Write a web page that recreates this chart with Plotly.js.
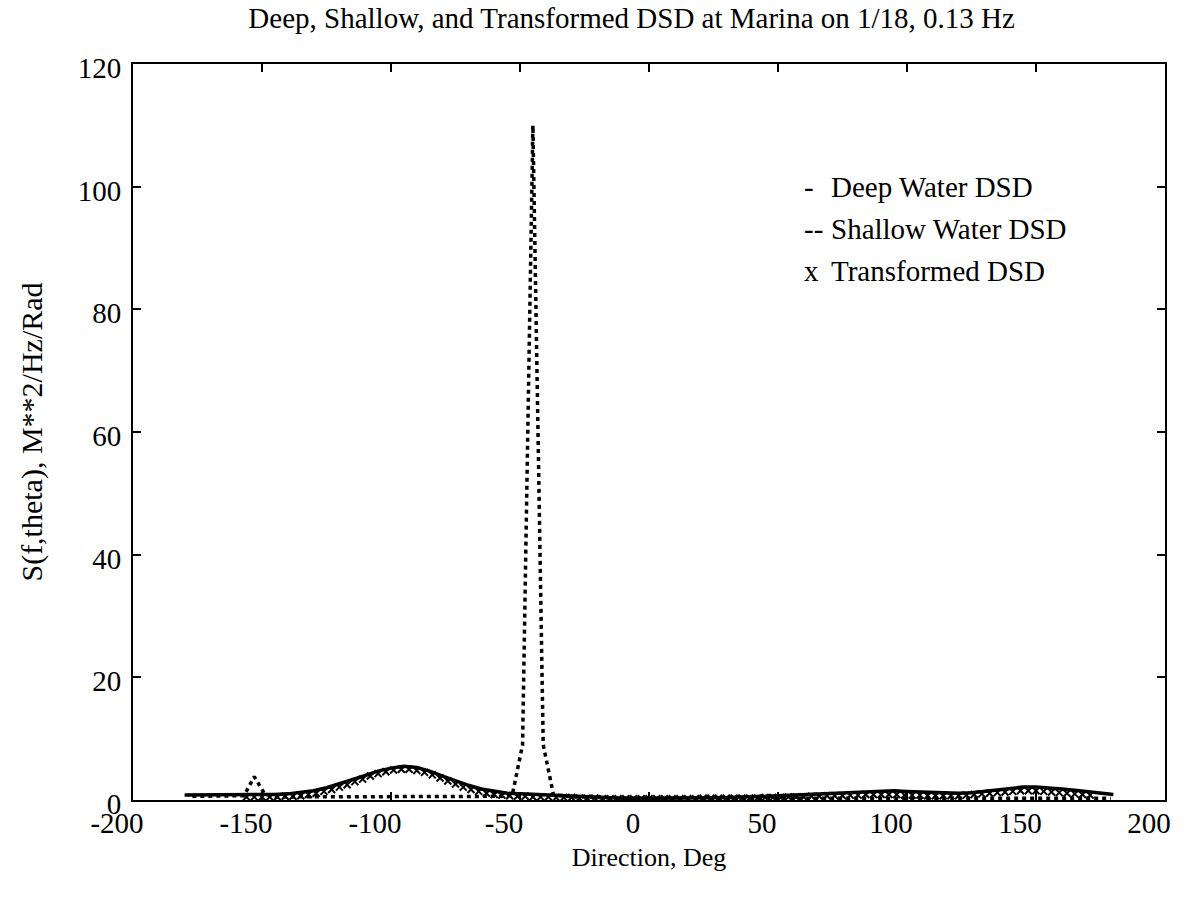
<!DOCTYPE html>
<html>
<head>
<meta charset="utf-8">
<script src="https://cdn.plot.ly/plotly-3.0.1.min.js"></script>
<style>html,body{margin:0;padding:0;background:#fff;}#chart{width:1194px;height:903px;}</style>
</head>
<body>
<div id="chart"></div>
<script>
// Deep water DSD (solid line)
const deepDir = [-180,-175,-170,-165,-160,-155,-150,-145,-140,-135,-130,-125,-120,-115,-110,-105,-100,-95,-90,-85,-80,-75,-70,-65,-60,-55,-50,-45,-40,-35,-30,-25,-20,-15,-10,-5,0,5,10,15,20,25,30,35,40,45,50,55,60,65,70,75,80,85,90,95,100,105,110,115,120,125,130,135,140,145,150,155,160,165,170,175,180];
const deepS = [0.8,0.8,0.8,0.8,0.8,0.8,0.8,0.9,1.0,1.2,1.5,2.0,2.6,3.3,4.0,4.7,5.2,5.5,5.3,4.7,3.9,3.1,2.4,1.8,1.4,1.1,1.0,0.9,0.9,0.8,0.7,0.6,0.5,0.4,0.3,0.3,0.2,0.3,0.3,0.4,0.4,0.4,0.4,0.5,0.5,0.6,0.7,0.8,0.9,1.0,1.1,1.2,1.3,1.4,1.5,1.5,1.4,1.3,1.2,1.1,1.1,1.2,1.4,1.7,1.9,2.1,2.1,2.0,1.8,1.6,1.4,1.1,0.9];

// Shallow water DSD (dashed line)
const shallowDir = [-177,-173,-169,-165,-161,-157,-153,-149,-145,-141,-137,-133,-129,-125,-121,-117,-113,-109,-105,-101,-97,-93,-89,-85,-81,-77,-73,-69,-65,-61,-57,-53,-49,-45,-41,-37,-33,-29,-25,-21,-17,-13,-9,-5,-1,3,7,11,15,19,23,27,31,35,39,43,47,51,55,59,63,67,71,75,79,83,87,91,95,99,103,107,111,115,119,123,127,131,135,139,143,147,151,155,159,163,167,171,175,179];
const shallowS = [0.6,0.6,0.6,0.6,0.6,0.7,3.8,1.0,0.5,0.5,0.5,0.5,0.5,0.5,0.5,0.5,0.5,0.5,0.5,0.5,0.5,0.5,0.5,0.5,0.5,0.5,0.5,0.5,0.5,0.5,0.6,0.8,9,110,9,0.8,0.6,0.5,0.5,0.4,0.4,0.3,0.3,0.3,0.2,0.2,0.2,0.2,0.2,0.2,0.2,0.2,0.3,0.3,0.3,0.3,0.3,0.3,0.3,0.3,0.3,0.3,0.3,0.3,0.3,0.3,0.3,0.3,0.3,0.3,0.3,0.3,0.3,0.3,0.3,0.3,0.3,0.3,0.3,0.3,0.3,0.3,0.3,0.3,0.3,0.3,0.3,0.3,0.3,0.3];

// Transformed DSD (x markers)
const transDir = [-156,-153,-150,-147,-144,-141,-138,-135,-132,-129,-126,-123,-120,-117,-114,-111,-108,-105,-102,-99,-96,-93,-90,-87,-84,-81,-78,-75,-72,-69,-66,-63,-60,-57,-54,-51,-48,-45,-42,-39,-36,-33,-30,-27,-24,-21,-18,-15,-12,-9,-6,-3,0,3,6,9,12,15,18,21,24,27,30,33,36,39,42,45,48,51,54,57,60,63,66,69,72,75,78,81,84,87,90,93,96,99,102,105,108,111,114,117,120,123,126,129,132,135,138,141,144,147,150,153,156,159,162,165,168,171];
const transS = [0.5,0.5,0.5,0.5,0.5,0.6,0.6,0.7,0.9,1.1,1.4,1.7,2.1,2.5,3.0,3.4,3.9,4.3,4.6,4.9,5.0,5.0,4.8,4.5,4.1,3.6,3.1,2.6,2.1,1.7,1.4,1.1,0.9,0.8,0.7,0.6,0.6,0.5,0.5,0.5,0.4,0.4,0.4,0.3,0.3,0.3,0.2,0.2,0.2,0.2,0.2,0.2,0.2,0.2,0.2,0.2,0.2,0.2,0.2,0.3,0.3,0.3,0.3,0.3,0.3,0.3,0.3,0.4,0.4,0.4,0.5,0.5,0.5,0.6,0.6,0.7,0.7,0.7,0.8,0.8,0.9,0.9,0.9,0.9,0.9,0.8,0.8,0.8,0.7,0.7,0.7,0.7,0.7,0.8,0.9,1.0,1.1,1.2,1.3,1.4,1.5,1.5,1.5,1.4,1.3,1.2,1.1,1.0,0.9,0.8];

const xTicks = [-200,-150,-100,-50,0,50,100,150,200];
const yTicks = [0,20,40,60,80,100,120];
const legendSymbols = ['-', '--', 'x'];
const legendLabels = ['Deep Water DSD', 'Shallow Water DSD', 'Transformed DSD'];

const FONT = 'Liberation Serif, Times New Roman, serif';

const traces = [
  {x: deepDir, y: deepS, type: 'scatter', mode: 'lines', name: 'Deep Water DSD',
   line: {color: '#000', width: 3.5}, showlegend: false},
  {x: shallowDir, y: shallowS, type: 'scatter', mode: 'lines', name: 'Shallow Water DSD',
   line: {color: '#000', width: 3.5, dash: '4px,4px'}, showlegend: false},
  {x: transDir, y: transS, type: 'scatter', mode: 'markers', name: 'Transformed DSD',
   marker: {symbol: 'x-thin-open', size: 7, color: '#000', line: {color: '#000', width: 2}}, showlegend: false}
];

const legendY = [0.833, 0.776, 0.719];
const annotations = [];
for (let i = 0; i < legendLabels.length; i++) {
  annotations.push({xref: 'paper', yref: 'paper', x: 0.648, y: legendY[i], xanchor: 'left', yanchor: 'middle',
    text: legendSymbols[i], showarrow: false, font: {family: FONT, size: 29, color: '#000'}});
  annotations.push({xref: 'paper', yref: 'paper', x: 0.674, y: legendY[i], xanchor: 'left', yanchor: 'middle',
    text: legendLabels[i], showarrow: false, font: {family: FONT, size: 29, color: '#000'}});
}

const layout = {
  width: 1194, height: 903,
  paper_bgcolor: '#fff', plot_bgcolor: '#fff',
  margin: {l: 133, r: 29, t: 64, b: 103},
  font: {family: FONT, color: '#000', size: 24},
  title: {text: 'Deep, Shallow, and Transformed DSD at Marina on 1/18, 0.13 Hz',
    font: {family: FONT, size: 29, color: '#000'}, xref: 'container', x: 0.529, xanchor: 'center',
    yref: 'container', y: 0.98, yanchor: 'middle'},
  xaxis: {range: [-200, 200], tickvals: xTicks, ticktext: xTicks.map(String),
    ticks: 'inside', ticklen: 8, tickwidth: 2, tickcolor: '#000', ticklabelshift: -16, ticklabelstandoff: -4,
    showline: true, linewidth: 2, linecolor: '#000', mirror: 'allticks',
    showgrid: false, zeroline: false, tickfont: {family: FONT, size: 29, color: '#000'},
    title: {text: 'Direction, Deg', font: {family: FONT, size: 26, color: '#000'}, standoff: 10}},
  yaxis: {range: [0, 120], tickvals: yTicks, ticktext: yTicks.map(String),
    ticks: 'inside', ticklen: 8, tickwidth: 2, tickcolor: '#000', ticklabelstandoff: 4, ticklabelshift: 4,
    showline: true, linewidth: 2, linecolor: '#000', mirror: 'allticks',
    showgrid: false, zeroline: false, tickfont: {family: FONT, size: 29, color: '#000'},
    title: {text: 'S(f,theta), M**2/Hz/Rad', font: {family: FONT, size: 30, color: '#000'}, standoff: 26}},
  annotations: annotations
};

Plotly.newPlot('chart', traces, layout, {displayModeBar: false, staticPlot: true});
</script>
</body>
</html>
